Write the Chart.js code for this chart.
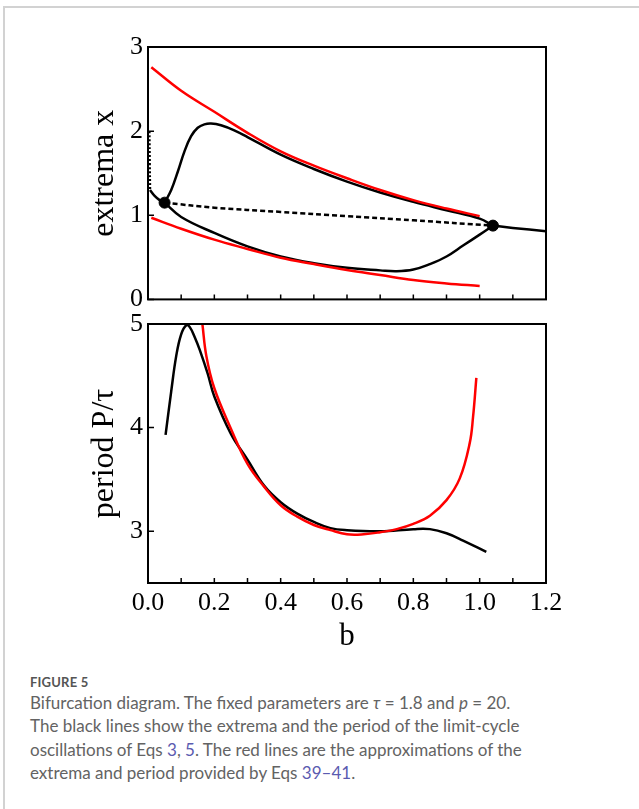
<!DOCTYPE html>
<html>
<head>
<meta charset="utf-8">
<script src="https://cdn.jsdelivr.net/npm/chart.js@4.4.0/dist/chart.umd.min.js"></script>
<style>
body{margin:0;background:#fff;width:639px;height:809px;overflow:hidden;position:relative}
.frame{position:absolute;left:3px;top:6px;width:700px;height:900px;border-top:2px solid #d2d2d2;border-left:2px solid #d2d2d2}
canvas{position:absolute;left:0}
#topChart{top:0}
#botChart{top:300px}
.fig{position:absolute;left:30px;top:674px;font:700 13px/17px Lato;color:#555;letter-spacing:0.2px}
.cap{position:absolute;left:30px;top:691px;font:17px/23.3px Lato;color:#636363;white-space:nowrap}
.cap a{color:#5b5bb0;text-decoration:none}
</style>
</head>
<body>
<div class="frame"></div>
<canvas id="topChart" width="639" height="320"></canvas>
<canvas id="botChart" width="639" height="355"></canvas>
<div class="fig">FIGURE 5</div>
<div class="cap">Bifurcation diagram. The fixed parameters are <i>τ</i> = 1.8 and <i>p</i> = 20.<br>The black lines show the extrema and the period of the limit-cycle<br>oscillations of Eqs <a>3</a>, <a>5</a>. The red lines are the approximations of the<br>extrema and period provided by Eqs <a>39–41</a>.</div>
<script>
// tick values
const xTickLabels = [0, 0.2, 0.4, 0.6, 0.8, 1.0, 1.2];
const xTickMarks = [0.1, 0.2, 0.3, 0.4, 0.5, 0.6, 0.7, 0.8, 0.9, 1.0, 1.1];
const yTicksTop = [0, 1, 2, 3];
const yTicksBot = [3, 4, 5];

// top panel: extrema
const redB = [0.01, 0.1, 0.2, 0.3, 0.4, 0.5, 0.6, 0.7, 0.8, 0.9, 1.0];
const redMax = [2.76, 2.48, 2.23, 1.98, 1.76, 1.59, 1.44, 1.30, 1.18, 1.08, 0.99];
const redMin = [0.97, 0.84, 0.71, 0.60, 0.495, 0.42, 0.35, 0.29, 0.23, 0.19, 0.16];

const maxB = [0.05, 0.07, 0.09, 0.11, 0.13, 0.15, 0.17, 0.19, 0.22, 0.26, 0.3, 0.4, 0.5, 0.6, 0.7, 0.8, 0.9, 1.0, 1.04];
const maxX = [1.15, 1.30, 1.52, 1.76, 1.94, 2.04, 2.08, 2.09, 2.07, 2.01, 1.93, 1.72, 1.55, 1.40, 1.27, 1.16, 1.06, 0.96, 0.877];
const minB = [0.05, 0.1, 0.2, 0.3, 0.4, 0.5, 0.6, 0.7, 0.75, 0.8, 0.85, 0.9, 0.95, 1.0, 1.04];
const minX = [1.15, 0.98, 0.79, 0.63, 0.51, 0.43, 0.375, 0.345, 0.335, 0.355, 0.42, 0.51, 0.64, 0.77, 0.877];

const ssLeftB = [0.006, 0.02, 0.035, 0.05];
const ssLeftX = [1.30, 1.23, 1.18, 1.15];
const ssVertB = [0.004, 0.005, 0.006];
const ssVertX = [2.0, 1.6, 1.30];
const ssDashB = [0.05, 0.2, 0.4, 0.6, 0.8, 1.04];
const ssDashX = [1.15, 1.09, 1.04, 0.99, 0.94, 0.877];
const ssRightB = [1.04, 1.1, 1.2];
const ssRightX = [0.877, 0.85, 0.81];

const hopfB = [0.05, 1.04];
const hopfX = [1.15, 0.877];

// bottom panel: period
const perB = [0.053, 0.07, 0.085, 0.1, 0.116, 0.126, 0.14, 0.156, 0.18, 0.2, 0.25, 0.3, 0.35, 0.4, 0.45, 0.5, 0.55, 0.6, 0.7, 0.8, 0.85, 0.9, 0.95, 1.02];
const perP = [3.93, 4.35, 4.69, 4.90, 4.99, 4.97, 4.88, 4.75, 4.52, 4.30, 3.94, 3.69, 3.44, 3.28, 3.17, 3.09, 3.03, 3.01, 3.00, 3.02, 3.02, 2.98, 2.91, 2.80];
const perRedB = [0.164, 0.176, 0.2, 0.25, 0.3, 0.35, 0.4, 0.45, 0.5, 0.55, 0.6, 0.65, 0.7, 0.75, 0.8, 0.85, 0.9, 0.94, 0.97, 0.98, 0.99];
const perRedP = [5.0, 4.69, 4.38, 3.99, 3.65, 3.43, 3.25, 3.14, 3.06, 3.01, 2.97, 2.97, 2.99, 3.02, 3.07, 3.15, 3.30, 3.51, 3.85, 4.10, 4.48];

function pts(xs, ys) {
    return xs.map((v, i) => ({x: v, y: ys[i]}));
}

function line(xs, ys, color, dash) {
    return {
        data: pts(xs, ys),
        borderColor: color,
        borderWidth: 2.5,
        borderDash: dash || [],
        pointRadius: 0,
        fill: false,
        tension: 0.4
    };
}

const serif = 'Liberation Serif';

const boxTicks = {
    id: 'boxTicks',
    afterDraw(chart, args, opts) {
        const {ctx, chartArea: a, scales: {x, y}} = chart;
        ctx.save();
        ctx.strokeStyle = '#000';
        ctx.lineWidth = 2;
        ctx.strokeRect(a.left, a.top, a.right - a.left, a.bottom - a.top);
        ctx.lineWidth = 1.5;
        ctx.beginPath();
        xTickMarks.forEach(v => {
            const px = x.getPixelForValue(v);
            ctx.moveTo(px, a.bottom);
            ctx.lineTo(px, a.bottom - 5);
        });
        opts.yTicks.forEach(v => {
            const py = y.getPixelForValue(v);
            ctx.moveTo(a.left, py);
            ctx.lineTo(a.left + 6, py);
        });
        ctx.stroke();
        ctx.restore();
    }
};

function makeChart(id, datasets, yMin, yMax, yTicks, yTitle, showX, pad, xHeight) {
    return new Chart(document.getElementById(id), {
        type: 'line',
        data: {datasets},
        plugins: [boxTicks],
        options: {
            responsive: false,
            animation: false,
            devicePixelRatio: 1,
            layout: {padding: pad},
            plugins: {
                legend: {display: false},
                tooltip: {enabled: false},
                boxTicks: {yTicks}
            },
            scales: {
                x: {
                    type: 'linear',
                    min: 0,
                    max: 1.2,
                    grid: {display: false, drawTicks: false},
                    border: {display: false},
                    afterBuildTicks: s => { s.ticks = xTickLabels.map(v => ({value: v})); },
                    afterFit: s => { s.height = xHeight; },
                    ticks: {
                        display: showX,
                        padding: 5,
                        maxRotation: 0,
                        autoSkip: false,
                        color: '#000',
                        font: {family: serif, size: 26},
                        callback: v => v.toFixed(1)
                    },
                    title: {
                        display: showX,
                        text: 'b',
                        color: '#000',
                        font: {family: serif, size: 31, lineHeight: 1.2},
                        padding: 0
                    }
                },
                y: {
                    min: yMin,
                    max: yMax,
                    grid: {display: false, drawTicks: false},
                    border: {display: false},
                    afterBuildTicks: s => { s.ticks = yTicks.map(v => ({value: v})); },
                    afterFit: s => { s.width = 67; },
                    ticks: {
                        padding: 5,
                        color: '#000',
                        font: {family: serif, size: 26}
                    },
                    title: {
                        display: true,
                        text: yTitle,
                        color: '#000',
                        font: {family: serif, size: 32, lineHeight: 1.2},
                        padding: 4
                    }
                }
            }
        }
    });
}

const hopf = {
    data: pts(hopfB, hopfX),
    showLine: false,
    pointRadius: 5.5,
    pointBackgroundColor: '#000',
    pointBorderColor: '#000'
};

makeChart('topChart', [
    line(redB, redMax, '#ff0000'),
    line(redB, redMin, '#ff0000'),
    line(maxB, maxX, '#000'),
    line(minB, minX, '#000'),
    line(ssVertB, ssVertX, '#000', [2, 2]),
    line(ssLeftB, ssLeftX, '#000'),
    line(ssDashB, ssDashX, '#000', [5, 3]),
    line(ssRightB, ssRightX, '#000'),
    hopf
], 0, 3, yTicksTop, 'extrema x', false, {left: 81, right: 93, top: 47, bottom: 0}, 16);

makeChart('botChart', [
    line(perRedB, perRedP, '#ff0000'),
    line(perB, perP, '#000')
], 2.5, 5, yTicksBot, 'period P/τ', true, {left: 81, right: 93, top: 24, bottom: 0}, 72);
</script>
</body>
</html>
